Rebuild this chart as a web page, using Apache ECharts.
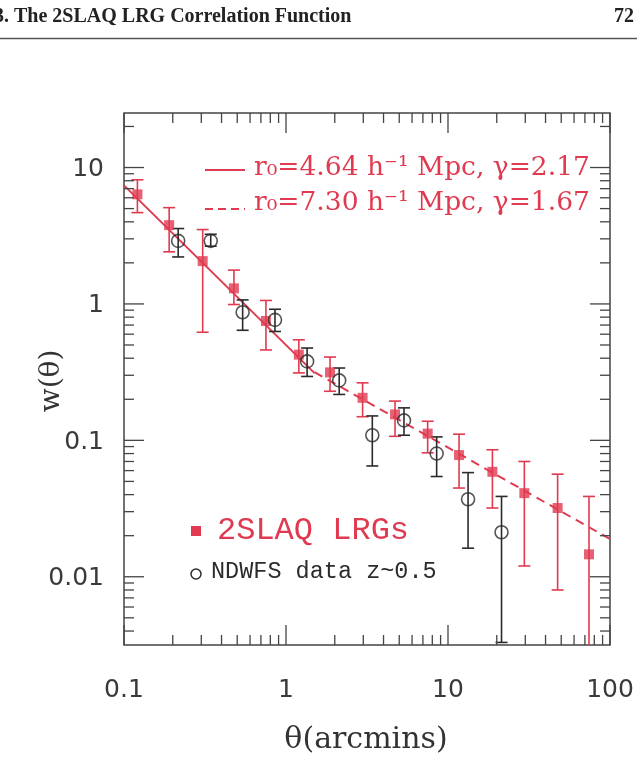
<!DOCTYPE html>
<html>
<head>
<meta charset="utf-8">
<script src="https://cdn.jsdelivr.net/npm/echarts@6/dist/echarts.min.js"></script>
<style>
  html, body { margin: 0; padding: 0; background: #fff; }
  #main { width: 637px; height: 773px; }
</style>
</head>
<body>
<div id="main"></div>
<script>
// 2SLAQ LRG points (theta in arcmin, w and error-bar ends)
const lrgTheta = [0.121, 0.190, 0.306, 0.477, 0.752, 1.20, 1.87, 2.97, 4.71, 7.49, 11.7, 18.8, 29.6, 47.5, 74.2];
const lrgW      = [6.36, 3.78, 2.06, 1.30, 0.75, 0.425, 0.315, 0.205, 0.155, 0.112, 0.078, 0.0588, 0.041, 0.0319, 0.0146];
const lrgHi     = [8.13, 5.08, 3.51, 1.77, 1.06, 0.546, 0.408, 0.264, 0.194, 0.138, 0.111, 0.0853, 0.070, 0.0565, 0.0388];
const lrgLo     = [4.67, 2.41, 0.62, 0.99, 0.46, 0.312, 0.229, 0.149, 0.107, 0.081, 0.0447, 0.0319, 0.012, 0.0080, 0.001];

// NDWFS z~0.5 points
const ndwfsTheta = [0.216, 0.343, 0.540, 0.855, 1.35, 2.13, 3.41, 5.35, 8.51, 13.3, 21.4];
const ndwfsW     = [2.90, 2.90, 0.869, 0.764, 0.379, 0.275, 0.109, 0.140, 0.080, 0.037, 0.0212];
const ndwfsHi    = [3.57, 3.24, 1.07, 0.914, 0.475, 0.339, 0.151, 0.173, 0.106, 0.058, 0.0388];
const ndwfsLo    = [2.21, 2.65, 0.641, 0.628, 0.294, 0.217, 0.0649, 0.109, 0.0543, 0.0162, 0.0033];

// power-law fits, end points
const fitSolid  = [[0.1, 7.4], [1.5, 0.311]];
const fitDashed = [[1.5, 0.316], [100, 0.0189]];

// axes
const xMin = 0.1, xMax = 100;
const yMin = 0.00316, yMax = 25.1;
const xMajor = [0.1, 1, 10, 100];
const xLabels = ['0.1', '1', '10', '100'];
const xMinor = [0.2, 0.3, 0.4, 0.5, 0.6, 0.7, 0.8, 0.9, 2, 3, 4, 5, 6, 7, 8, 9, 20, 30, 40, 50, 60, 70, 80, 90];
const yMajor = [0.01, 0.1, 1, 10];
const yLabels = ['0.01', '0.1', '1', '10'];
const yMinor = [0.004, 0.005, 0.006, 0.007, 0.008, 0.009, 0.02, 0.03, 0.04, 0.05, 0.06, 0.07, 0.08, 0.09,
                0.2, 0.3, 0.4, 0.5, 0.6, 0.7, 0.8, 0.9, 2, 3, 4, 5, 6, 7, 8, 9, 20];

const RED = '#e03a50';
const INK = '#2b2b2b';
const FRAME = '#444';

const chart = echarts.init(document.getElementById('main'));

function errBar(color, lo, hi, xs) {
    return {
        type: 'custom',
        clip: true,
        z: 3,
        data: xs.map((x, i) => [x, lo[i], hi[i]]),
        encode: { x: 0, y: [1, 2] },
        renderItem: function (params, api) {
            const top = api.coord([api.value(0), api.value(2)]);
            const bot = api.coord([api.value(0), api.value(1)]);
            const w = 6;
            const st = { stroke: color, lineWidth: 1.6 };
            return {
                type: 'group',
                children: [
                    { type: 'line', shape: { x1: top[0], y1: top[1], x2: bot[0], y2: bot[1] }, style: st },
                    { type: 'line', shape: { x1: top[0] - w, y1: top[1], x2: top[0] + w, y2: top[1] }, style: st },
                    { type: 'line', shape: { x1: bot[0] - w, y1: bot[1], x2: bot[0] + w, y2: bot[1] }, style: st }
                ]
            };
        }
    };
}

function tickSeries(vals, major, isX) {
    const len = major ? 20 : 10;
    return {
        type: 'custom',
        silent: true,
        z: 5,
        data: vals.map(v => isX ? [v, yMin] : [xMin, v]),
        renderItem: function (params, api) {
            const st = { stroke: FRAME, lineWidth: 1.3 };
            let a, b;
            if (isX) {
                a = api.coord([api.value(0), yMin]);
                b = api.coord([api.value(0), yMax]);
                return { type: 'group', children: [
                    { type: 'line', shape: { x1: a[0], y1: a[1], x2: a[0], y2: a[1] - len }, style: st },
                    { type: 'line', shape: { x1: b[0], y1: b[1], x2: b[0], y2: b[1] + len }, style: st }
                ]};
            }
            a = api.coord([xMin, api.value(1)]);
            b = api.coord([xMax, api.value(1)]);
            return { type: 'group', children: [
                { type: 'line', shape: { x1: a[0], y1: a[1], x2: a[0] + len, y2: a[1] }, style: st },
                { type: 'line', shape: { x1: b[0], y1: b[1], x2: b[0] - len, y2: b[1] }, style: st }
            ]};
        }
    };
}

function labelSeries(vals, labels, isX) {
    return {
        type: 'custom',
        silent: true,
        data: vals.map(v => isX ? [v, yMin] : [xMin, v]),
        renderItem: function (params, api) {
            const p = api.coord([api.value(0), api.value(1)]);
            return {
                type: 'text',
                x: isX ? p[0] : p[0] - 20,
                y: isX ? p[1] + 45 : p[1] + 2,
                style: {
                    text: labels[params.dataIndex],
                    fill: '#3a3a3a',
                    font: '25px "DejaVu Sans"',
                    align: isX ? 'center' : 'right',
                    verticalAlign: 'middle'
                }
            };
        }
    };
}

chart.setOption({
    animation: false,
    backgroundColor: '#fff',
    grid: { left: 124, top: 113, width: 486, height: 532, show: true, borderColor: FRAME, borderWidth: 1.5 },
    xAxis: {
        type: 'log', logBase: 10, min: xMin, max: xMax,
        axisLine: { show: false }, axisTick: { show: false }, axisLabel: { show: false }, splitLine: { show: false }
    },
    yAxis: {
        type: 'log', logBase: 10, min: yMin, max: yMax,
        axisLine: { show: false }, axisTick: { show: false }, axisLabel: { show: false }, splitLine: { show: false }
    },
    series: [
        tickSeries(xMajor, true, true),
        tickSeries(xMinor, false, true),
        tickSeries(yMajor, true, false),
        tickSeries(yMinor, false, false),
        labelSeries(xMajor, xLabels, true),
        labelSeries(yMajor, yLabels, false),
        {
            type: 'line', data: fitSolid, showSymbol: false, z: 2,
            lineStyle: { color: RED, width: 2 }
        },
        {
            type: 'line', data: fitDashed, showSymbol: false, z: 2,
            lineStyle: { color: RED, width: 2, type: [9, 6] }
        },
        errBar(RED, lrgLo, lrgHi, lrgTheta),
        errBar(INK, ndwfsLo, ndwfsHi, ndwfsTheta),
        {
            type: 'scatter', z: 4,
            data: lrgTheta.map((x, i) => [x, lrgW[i]]),
            symbol: 'rect', symbolSize: 10,
            itemStyle: { color: RED }
        },
        {
            type: 'scatter', z: 4,
            data: ndwfsTheta.map((x, i) => [x, ndwfsW[i]]),
            symbol: 'circle', symbolSize: 13,
            itemStyle: { color: 'rgba(0,0,0,0)', borderColor: INK, borderWidth: 1.6 }
        }
    ],
    graphic: [
        // page header
        { type: 'text', left: -6, top: 7, style: { text: '3. The 2SLAQ LRG Correlation Function', fill: '#222', font: 'bold 20px "Liberation Serif"' } },
        { type: 'text', right: 3, top: 7, style: { text: '72', fill: '#222', font: 'bold 20px "Liberation Serif"' } },
        { type: 'line', shape: { x1: 0, y1: 38.5, x2: 637, y2: 38.5 }, style: { stroke: '#555', lineWidth: 1.5 } },
        // fit legend
        { type: 'line', shape: { x1: 205, y1: 170, x2: 245, y2: 170 }, style: { stroke: RED, lineWidth: 2 } },
        { type: 'line', shape: { x1: 205, y1: 209, x2: 245, y2: 209 }, style: { stroke: RED, lineWidth: 2, lineDash: [8, 5] } },
        { type: 'text', x: 254, y: 168, style: { text: 'r\u2080=4.64 h\u207B\u00B9 Mpc, \u03B3=2.17', fill: RED, font: '26.5px "DejaVu Serif"', verticalAlign: 'middle' } },
        { type: 'text', x: 254, y: 203, style: { text: 'r\u2080=7.30 h\u207B\u00B9 Mpc, \u03B3=1.67', fill: RED, font: '26.5px "DejaVu Serif"', verticalAlign: 'middle' } },
        // data legend
        { type: 'rect', shape: { x: 191, y: 526, width: 10, height: 10 }, style: { fill: RED } },
        { type: 'text', x: 217, y: 531, style: { text: '2SLAQ LRGs', fill: RED, font: '32px "Liberation Mono"', verticalAlign: 'middle' } },
        { type: 'circle', shape: { cx: 196, cy: 574, r: 5 }, style: { fill: 'none', stroke: INK, lineWidth: 1.5 } },
        { type: 'text', x: 211, y: 572, style: { text: 'NDWFS data z~0.5', fill: INK, font: '23.5px "Liberation Mono"', verticalAlign: 'middle' } },
        // axis titles
        { type: 'text', x: 366, y: 740, style: { text: '\u03B8(arcmins)', fill: '#333', font: '30px "DejaVu Serif"', align: 'center', verticalAlign: 'middle' } },
        { type: 'text', x: 52, y: 381, rotation: Math.PI / 2, style: { text: 'w(\u03B8)', fill: '#333', font: '28px "DejaVu Serif"', align: 'center', verticalAlign: 'middle' } }
    ]
});
</script>
</body>
</html>
